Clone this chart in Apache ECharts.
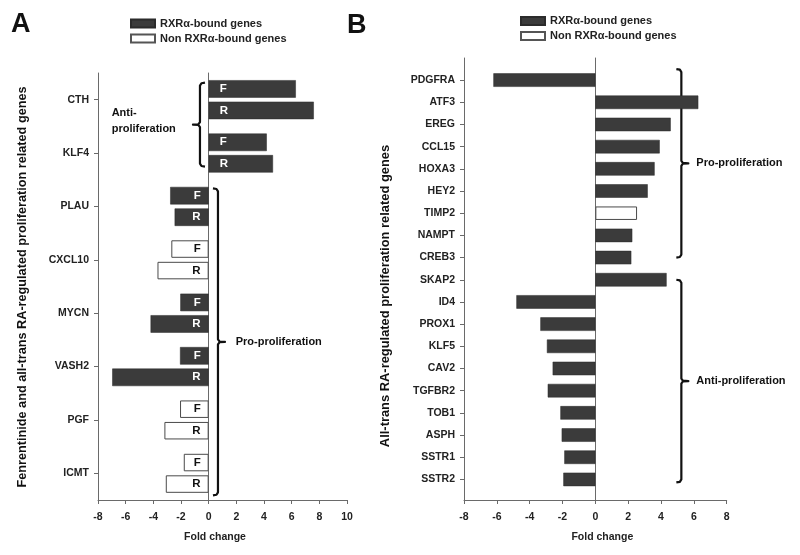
<!DOCTYPE html>
<html><head><meta charset="utf-8">
<script src="https://cdn.jsdelivr.net/npm/echarts@6/dist/echarts.min.js"></script>
<style>html,body{margin:0;padding:0;background:#fff}#c{width:800px;height:555px}</style>
</head><body><div id="c"></div>
<script>
// ---------- data ----------
const genesA = ['CTH', 'KLF4', 'PLAU', 'CXCL10', 'MYCN', 'VASH2', 'PGF', 'ICMT'];
const fenretinideA = [6.3, 4.2, -2.78, -2.7, -2.05, -2.07, -2.07, -1.8];
const atraA = [7.6, 4.65, -2.46, -3.7, -4.2, -6.97, -3.2, -3.1];
const rxrBoundA = [true, true, true, false, true, true, false, false];

const genesB = ['PDGFRA', 'ATF3', 'EREG', 'CCL15', 'HOXA3', 'HEY2', 'TIMP2', 'NAMPT', 'CREB3',
  'SKAP2', 'ID4', 'PROX1', 'KLF5', 'CAV2', 'TGFBR2', 'TOB1', 'ASPH', 'SSTR1', 'SSTR2'];
const atraB = [-6.21, 6.27, 4.59, 3.92, 3.61, 3.19, 2.54, 2.25, 2.19,
  4.34, -4.81, -3.35, -2.95, -2.6, -2.9, -2.13, -2.05, -1.89, -1.95];
const rxrBoundB = [true, true, true, true, true, true, false, true, true,
  true, true, true, true, true, true, true, true, true, true];

const axisA = { min: -8, max: 10, interval: 2 };
const axisB = { min: -8, max: 8, interval: 2 };
const legendNames = ['RXRα-bound genes', 'Non RXRα-bound genes'];
const barLetters = ['F', 'R'];

// ---------- styles ----------
const FONT = 'Liberation Sans, Arial, sans-serif';
const DARK = '#3b3b3b';
const AXIS = '#6a6a6a';
function itemStyleFor(bound) {
  return bound ? { color: DARK, borderColor: '#2b2b2b', borderWidth: 0.5 }
               : { color: '#ffffff', borderColor: '#4a4a4a', borderWidth: 1 };
}
function barData(values, bound, letter) {
  return values.map((v, i) => ({
    value: v,
    itemStyle: itemStyleFor(bound[i]),
    label: letter ? {
      show: true, formatter: letter,
      position: v >= 0 ? 'insideLeft' : 'insideRight',
      distance: v >= 0 ? 11 : 8,
      color: bound[i] ? '#ffffff' : '#111111',
      fontSize: 11.5, fontWeight: 'bold', fontFamily: FONT
    } : { show: false }
  }));
}
const tickLabel = { fontSize: 10.5, fontWeight: 'bold', color: '#222', fontFamily: FONT };

function frameAxes(gridIdx, rng, namePad) {
  return {
    x: {
      gridIndex: gridIdx, type: 'value', min: rng.min, max: rng.max, interval: rng.interval,
      axisLine: { show: true, onZero: false, lineStyle: { color: AXIS, width: 1 } },
      axisTick: { show: true, inside: false, length: 4, lineStyle: { color: AXIS } },
      axisLabel: Object.assign({ margin: 12 }, tickLabel),
      splitLine: { show: false },
      name: 'Fold change', nameLocation: 'middle', nameGap: 32,
      nameTextStyle: { fontSize: 10.5, fontWeight: 'bold', color: '#222', fontFamily: FONT, padding: namePad }
    },
    y: [
      { gridIndex: gridIdx, type: 'category', data: [''], position: 'left',
        axisLine: { show: true, onZero: false, lineStyle: { color: AXIS, width: 1 } },
        axisTick: { show: false }, axisLabel: { show: false }, splitLine: { show: false } },
      { gridIndex: gridIdx, type: 'category', data: [''], position: 'left',
        axisLine: { show: true, onZero: true, lineStyle: { color: AXIS, width: 1 } },
        axisTick: { show: false }, axisLabel: { show: false }, splitLine: { show: false } }
    ]
  };
}
const fA = frameAxes(1, axisA, [0, 15, 0, 0]);
const fB = frameAxes(3, axisB, [0, 0, 0, 14]);

const legendText = { fontSize: 11, fontWeight: 'bold', color: '#222', fontFamily: FONT };
const option = {
  animation: false,
  backgroundColor: '#ffffff',
  grid: [
    { left: 98, top: 73, width: 249, height: 427 },     // A bars
    { left: 98, top: 73, width: 249, height: 427 },     // A frame
    { left: 464, top: 69, width: 262.7, height: 421.5 }, // B bars
    { left: 464, top: 58, width: 262.7, height: 442 }    // B frame
  ],
  xAxis: [
    { gridIndex: 0, type: 'value', min: axisA.min, max: axisA.max, interval: axisA.interval, show: false },
    fA.x,
    { gridIndex: 2, type: 'value', min: axisB.min, max: axisB.max, interval: axisB.interval, show: false },
    fB.x
  ],
  yAxis: [
    { gridIndex: 0, type: 'category', data: genesA, inverse: true,
      axisLine: { show: false, onZero: false },
      axisTick: { show: true, alignWithLabel: true, length: 4, lineStyle: { color: AXIS } },
      axisLabel: Object.assign({ margin: 9 }, tickLabel) },
    fA.y[0], fA.y[1],
    { gridIndex: 2, type: 'category', data: genesB, inverse: true,
      axisLine: { show: false, onZero: false },
      axisTick: { show: true, alignWithLabel: true, length: 4, lineStyle: { color: AXIS } },
      axisLabel: Object.assign({ margin: 9 }, tickLabel) },
    fB.y[0], fB.y[1]
  ],
  legend: [
    { data: legendNames, orient: 'vertical', left: 130, top: 18, padding: 0, itemWidth: 24, itemHeight: 8,
      itemGap: 4, itemTextGap: 7, icon: 'rect', selectedMode: false, textStyle: legendText },
    { data: legendNames, orient: 'vertical', left: 520, top: 15.5, padding: 0, itemWidth: 24, itemHeight: 8,
      itemGap: 4, itemTextGap: 6, icon: 'rect', selectedMode: false, textStyle: legendText }
  ],
  series: [
    { type: 'bar', name: 'F', xAxisIndex: 0, yAxisIndex: 0, barWidth: 17.5, barGap: '23%',
      data: barData(fenretinideA, rxrBoundA, barLetters[0]) },
    { type: 'bar', name: 'R', xAxisIndex: 0, yAxisIndex: 0, barWidth: 17.5, barGap: '23%',
      data: barData(atraA, rxrBoundA, barLetters[1]) },
    { type: 'bar', name: 'B', xAxisIndex: 2, yAxisIndex: 3, barWidth: 13.5,
      data: barData(atraB, rxrBoundB, null) },
    { type: 'bar', name: legendNames[0], xAxisIndex: 1, yAxisIndex: 1, data: [],
      itemStyle: { color: DARK, borderColor: '#2b2b2b', borderWidth: 0.5 } },
    { type: 'bar', name: legendNames[1], xAxisIndex: 1, yAxisIndex: 1, data: [],
      itemStyle: { color: '#ffffff', borderColor: '#555', borderWidth: 1 } }
  ]
};

const chart = echarts.init(document.getElementById('c'), null, { renderer: 'canvas' });
chart.setOption(option);

// ---------- annotations (braces, group labels, titles) ----------
function pA(v, cat) { return chart.convertToPixel({ xAxisIndex: 0, yAxisIndex: 0 }, [v, cat]); }
function pB(v, cat) { return chart.convertToPixel({ xAxisIndex: 2, yAxisIndex: 3 }, [v, cat]); }
function brace(x, y1, y2, dir) {
  const ym = (y1 + y2) / 2;
  const h = 5, t = 7;
  return {
    type: 'polyline',
    shape: { points: [[x - dir * h, y1], [x - dir * 1.5, y1 + 0.6], [x, y1 + 3], [x, ym - 2.5],
      [x + dir * 1.5, ym - 0.4], [x + dir * t, ym], [x + dir * 1.5, ym + 0.4], [x, ym + 2.5],
      [x, y2 - 3], [x - dir * 1.5, y2 - 0.6], [x - dir * h, y2]] },
    style: { stroke: '#111', lineWidth: 2.2, fill: null, lineJoin: 'round' },
    silent: true
  };
}
function txt(x, y, s, size, align, rot) {
  return {
    type: 'text', x: x, y: y, rotation: rot || 0, silent: true,
    style: { text: s, fill: '#111', fontSize: size, fontWeight: 'bold', fontFamily: FONT,
      textAlign: align || 'left', textVerticalAlign: 'middle' }
  };
}
const zA = pA(0, genesA[0])[0];
const zB = pB(0, genesB[0])[0];
const yA = genesA.map(g => pA(0, g)[1]);
const yB = genesB.map(g => pB(0, g)[1]);

const g = [];
// Panel A
g.push(brace(zA - 8.7, yA[0] - 17, yA[1] + 13.5, -1));
g.push(txt(zA - 97, (yA[0] + yA[1]) / 2 - 13.5, 'Anti-', 11));
g.push(txt(zA - 97, (yA[0] + yA[1]) / 2 + 3, 'proliferation', 11));
const paTop = yA[2] - 18, paBot = yA[7] + 22;
g.push(brace(zA + 9.3, paTop, paBot, 1));
g.push(txt(zA + 27, (paTop + paBot) / 2, 'Pro-proliferation', 11));
// Panel B
const pbTop = yB[0] - 11, pbBot = yB[8];
g.push(brace(zB + 86, pbTop, pbBot, 1));
g.push(txt(zB + 101, (pbTop + pbBot) / 2, 'Pro-proliferation', 11));
const abTop = yB[9], abBot = yB[18] + 3;
g.push(brace(zB + 86, abTop, abBot, 1));
g.push(txt(zB + 101, (abTop + abBot) / 2, 'Anti-proliferation', 11));
// Panel letters and axis titles
g.push(txt(11, 25, 'A', 27));
g.push(txt(347, 26, 'B', 27));
g.push(txt(22, 287, 'Fenrentinide and all-trans RA-regulated proliferation related genes', 12.7, 'center', Math.PI / 2));
g.push(txt(385, 296, 'All-trans RA-regulated proliferation related genes', 12.9, 'center', Math.PI / 2));

chart.setOption({ graphic: g });
</script>
</body></html>
